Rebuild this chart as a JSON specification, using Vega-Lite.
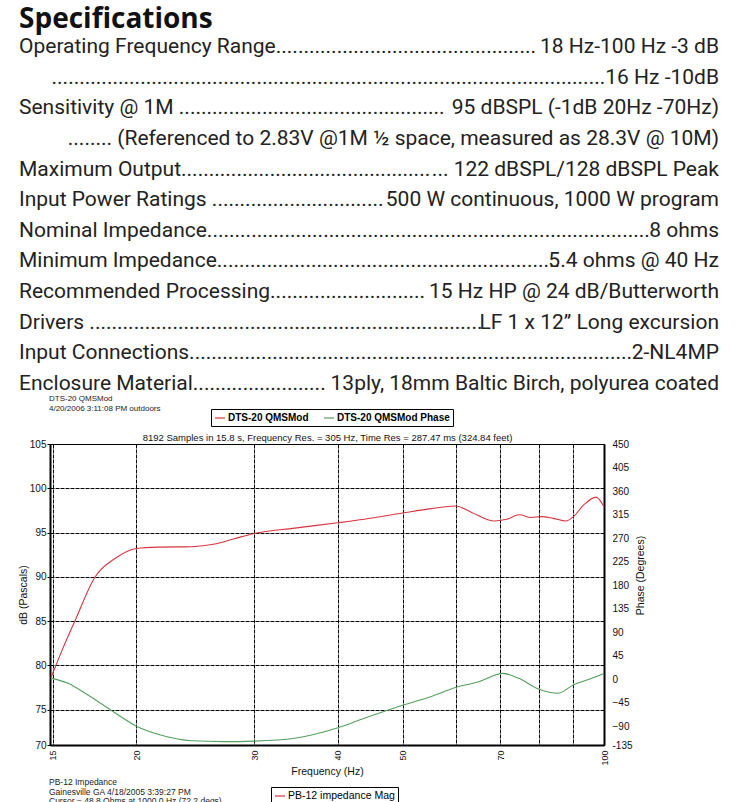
{
  "$schema": "https://vega.github.io/schema/vega-lite/v6.json",
  "padding": {"left": 17, "top": 6, "right": 0, "bottom": 0},
  "background": "white",
  "spacing": 0,
  "config": {
    "font": "Liberation Sans",
    "view": {"stroke": null},
    "axis": {"labelFont": "Liberation Sans", "titleFont": "Liberation Sans", "labelColor": "#111", "titleColor": "#111", "titleFontWeight": "normal", "labelFontSize": 10, "titleFontSize": 10.5}
  },
  "resolve": {"scale": {"color": "independent"}, "legend": {"color": "independent"}},
  "datasets": {
    "specs": [
      {"line": 1, "label": "Operating Frequency Range...............................................", "value": "18 Hz-100 Hz -3 dB"},
      {"line": 2, "label": "", "value": "....................................................................................................16 Hz -10dB"},
      {"line": 3, "label": "Sensitivity @ 1M ................................................", "value": "95 dBSPL (-1dB 20Hz -70Hz)"},
      {"line": 4, "label": "", "value": "........ (Referenced to 2.83V @1M ½ space, measured as 28.3V @ 10M)"},
      {"line": 5, "label": "Maximum Output.............................................", "value": "... 122 dBSPL/128 dBSPL Peak"},
      {"line": 6, "label": "Input Power Ratings ...............................", "value": "500 W continuous, 1000 W program"},
      {"line": 7, "label": "Nominal Impedance................................................................................", "value": "8 ohms"},
      {"line": 8, "label": "Minimum Impedance..............................................................", "value": "5.4 ohms @ 40 Hz"},
      {"line": 9, "label": "Recommended Processing............................", "value": "15 Hz HP @ 24 dB/Butterworth"},
      {"line": 10, "label": "Drivers .......................................................................", "value": "LF 1 x 12” Long excursion"},
      {"line": 11, "label": "Input Connections................................................................................", "value": "2-NL4MP"},
      {"line": 12, "label": "Enclosure Material........................", "value": "13ply, 18mm Baltic Birch, polyurea coated"}
    ],
    "curves": [
      {"series": "DTS-20 QMSMod", "freq": 14.9, "value": 78.6},
      {"series": "DTS-20 QMSMod", "freq": 15.5, "value": 81.8},
      {"series": "DTS-20 QMSMod", "freq": 16.2, "value": 85.1},
      {"series": "DTS-20 QMSMod", "freq": 17.35, "value": 90.0},
      {"series": "DTS-20 QMSMod", "freq": 18.6, "value": 92.1},
      {"series": "DTS-20 QMSMod", "freq": 20, "value": 93.2},
      {"series": "DTS-20 QMSMod", "freq": 21.5, "value": 93.35},
      {"series": "DTS-20 QMSMod", "freq": 24.2, "value": 93.4},
      {"series": "DTS-20 QMSMod", "freq": 26.2, "value": 93.7},
      {"series": "DTS-20 QMSMod", "freq": 28, "value": 94.3},
      {"series": "DTS-20 QMSMod", "freq": 30, "value": 94.9},
      {"series": "DTS-20 QMSMod", "freq": 34.5, "value": 95.5},
      {"series": "DTS-20 QMSMod", "freq": 40, "value": 96.1},
      {"series": "DTS-20 QMSMod", "freq": 43.8, "value": 96.5},
      {"series": "DTS-20 QMSMod", "freq": 50, "value": 97.2},
      {"series": "DTS-20 QMSMod", "freq": 55.2, "value": 97.7},
      {"series": "DTS-20 QMSMod", "freq": 60, "value": 98.0},
      {"series": "DTS-20 QMSMod", "freq": 63.3, "value": 97.3},
      {"series": "DTS-20 QMSMod", "freq": 68.6, "value": 96.3},
      {"series": "DTS-20 QMSMod", "freq": 71.5, "value": 96.5},
      {"series": "DTS-20 QMSMod", "freq": 74.8, "value": 97.0},
      {"series": "DTS-20 QMSMod", "freq": 77.8, "value": 96.7},
      {"series": "DTS-20 QMSMod", "freq": 80.7, "value": 96.8},
      {"series": "DTS-20 QMSMod", "freq": 84, "value": 96.6},
      {"series": "DTS-20 QMSMod", "freq": 87.8, "value": 96.3},
      {"series": "DTS-20 QMSMod", "freq": 90, "value": 96.8},
      {"series": "DTS-20 QMSMod", "freq": 93.5, "value": 98.2},
      {"series": "DTS-20 QMSMod", "freq": 97.3, "value": 99.0},
      {"series": "DTS-20 QMSMod", "freq": 100, "value": 97.9},
      {"series": "DTS-20 QMSMod Phase", "freq": 14.9, "value": 2},
      {"series": "DTS-20 QMSMod Phase", "freq": 15.8, "value": -8},
      {"series": "DTS-20 QMSMod Phase", "freq": 16.9, "value": -30},
      {"series": "DTS-20 QMSMod Phase", "freq": 18.2, "value": -57},
      {"series": "DTS-20 QMSMod Phase", "freq": 20, "value": -90},
      {"series": "DTS-20 QMSMod Phase", "freq": 21.6, "value": -106},
      {"series": "DTS-20 QMSMod Phase", "freq": 24.2, "value": -118},
      {"series": "DTS-20 QMSMod Phase", "freq": 27, "value": -119.5},
      {"series": "DTS-20 QMSMod Phase", "freq": 30, "value": -118.5},
      {"series": "DTS-20 QMSMod Phase", "freq": 34.5, "value": -113},
      {"series": "DTS-20 QMSMod Phase", "freq": 40, "value": -93},
      {"series": "DTS-20 QMSMod Phase", "freq": 43.8, "value": -75},
      {"series": "DTS-20 QMSMod Phase", "freq": 50, "value": -50},
      {"series": "DTS-20 QMSMod Phase", "freq": 55.2, "value": -33},
      {"series": "DTS-20 QMSMod Phase", "freq": 60, "value": -16},
      {"series": "DTS-20 QMSMod Phase", "freq": 65, "value": -5},
      {"series": "DTS-20 QMSMod Phase", "freq": 70.6, "value": 11},
      {"series": "DTS-20 QMSMod Phase", "freq": 74.4, "value": 2},
      {"series": "DTS-20 QMSMod Phase", "freq": 80, "value": -19.5},
      {"series": "DTS-20 QMSMod Phase", "freq": 85.3, "value": -27},
      {"series": "DTS-20 QMSMod Phase", "freq": 90, "value": -11},
      {"series": "DTS-20 QMSMod Phase", "freq": 96.1, "value": 2},
      {"series": "DTS-20 QMSMod Phase", "freq": 100, "value": 11}
    ],
    "footer": [
      {"line": 1, "text": "PB-12 Impedance"},
      {"line": 2, "text": "Gainesville GA  4/18/2005 3:39:27 PM"},
      {"line": 3, "text": "Cursor = 48.8 Ohms at 1000.0 Hz (72.2 degs)"}
    ],
    "pb12": [
      {"series": "PB-12 impedance Mag"}
    ]
  },
  "vconcat": [
    {
      "width": 700,
      "height": 337,
      "title": {"text": "Specifications", "anchor": "start", "font": "Open Sans", "fontSize": 28, "fontWeight": "bold", "color": "#111", "offset": 2},
      "data": {"name": "specs"},
      "encoding": {
        "y": {"field": "line", "type": "ordinal", "scale": {"type": "point", "padding": 0}, "axis": null}
      },
      "layer": [
        {
          "mark": {"type": "text", "align": "left", "baseline": "middle", "font": "Roboto", "fontSize": 21, "color": "#222"},
          "encoding": {
            "x": {"datum": 0, "type": "quantitative", "scale": {"domain": [0, 1], "range": [-31, 669]}, "axis": null},
            "text": {"field": "label"}
          }
        },
        {
          "mark": {"type": "text", "align": "right", "baseline": "middle", "font": "Roboto", "fontSize": 21, "color": "#222"},
          "encoding": {
            "x": {"datum": 1, "type": "quantitative"},
            "text": {"field": "value"}
          }
        }
      ]
    },
    {
      "width": 554,
      "height": 301,
      "view": {"stroke": "black", "strokeWidth": 1},
      "title": {"text": ["DTS-20 QMSMod", "4/20/2006 3:11:08 PM outdoors"], "anchor": "start", "frame": "group", "dx": -1, "fontSize": 8, "fontWeight": "normal", "font": "Liberation Sans", "color": "#222", "lineHeight": 10, "offset": -4},
      "data": {"name": "curves"},
      "layer": [
        {
          "transform": [{"filter": "datum.series === 'DTS-20 QMSMod'"}],
          "mark": {"type": "line", "strokeWidth": 1.1, "interpolate": "monotone"},
          "encoding": {
            "x": {
              "field": "freq", "type": "quantitative",
              "scale": {"type": "log", "domain": [14.85, 100], "nice": false},
              "axis": {
                "orient": "bottom", "values": [15, 20, 30, 40, 50, 60, 70, 80, 90, 100], "format": "d",
                "labelExpr": "datum.value == 60 || datum.value == 80 || datum.value == 90 ? '' : datum.label",
                "labelAngle": 270, "ticks": false, "labelPadding": 5, "labelFontSize": 9,
                "title": "Frequency (Hz)", "titlePadding": 1, "titleFontSize": 10.5,
                "grid": true, "gridColor": "black", "gridDash": [4, 1], "gridOpacity": 1,
                "domainColor": "black", "domainWidth": 2
              }
            },
            "y": {
              "field": "value", "type": "quantitative",
              "scale": {"domain": [71, 105], "nice": false, "zero": false},
              "axis": {
                "orient": "left", "values": [71, 75, 80, 85, 90, 95, 100, 105],
                "labelExpr": "datum.value < 72 ? '70' : datum.label",
                "title": "dB (Pascals)", "titlePadding": 1,
                "tickSize": 3, "tickColor": "black", "labelPadding": 1,
                "grid": true, "gridColor": "black", "gridDash": [4, 1], "gridOpacity": 1,
                "domainColor": "black", "domainWidth": 2
              }
            },
            "color": {
              "field": "series", "type": "nominal",
              "scale": {"domain": ["DTS-20 QMSMod", "DTS-20 QMSMod Phase"], "range": ["#d9343f", "#55a060"]},
              "legend": {
                "orient": "none", "legendX": 161, "legendY": -35, "direction": "horizontal", "title": null,
                "symbolType": "stroke", "symbolSize": 100, "symbolStrokeWidth": 1.2,
                "labelFont": "Liberation Sans", "labelFontSize": 10, "labelFontWeight": "bold", "labelColor": "black",
                "strokeColor": "black", "padding": 3, "columnPadding": 12, "labelOffset": 2
              }
            }
          }
        },
        {
          "transform": [{"filter": "datum.series === 'DTS-20 QMSMod Phase'"}],
          "mark": {"type": "line", "strokeWidth": 1.1, "interpolate": "monotone"},
          "encoding": {
            "x": {
              "field": "freq", "type": "quantitative",
              "axis": {"orient": "top", "labels": false, "ticks": false, "domain": false, "grid": false,
                "title": "8192 Samples in 15.8 s, Frequency Res. = 305 Hz, Time Res = 287.47 ms (324.84 feet)",
                "titlePadding": 2, "titleFontSize": 9.5}
            },
            "y": {
              "field": "value", "type": "quantitative",
              "scale": {"domain": [-126, 450], "nice": false, "zero": false},
              "axis": {
                "orient": "right", "values": [-126, -90, -45, 0, 45, 90, 135, 180, 225, 270, 315, 360, 405, 450],
                "labelExpr": "datum.value < -120 ? '-135' : datum.label",
                "ticks": false, "labelPadding": 8, "grid": false,
                "title": "Phase (Degrees)", "titleAngle": 270, "titleX": 36, "titleY": 131, "titleAlign": "center", "titleBaseline": "middle",
                "domainColor": "black", "domainWidth": 2
              }
            },
            "color": {"field": "series", "type": "nominal"}
          }
        }
      ],
      "resolve": {"scale": {"y": "independent"}, "axis": {"x": "independent", "y": "independent"}}
    },
    {
      "width": 554,
      "height": 19,
      "layer": [
        {
          "data": {"name": "footer"},
          "mark": {"type": "text", "align": "left", "baseline": "middle", "fontSize": 8.5, "font": "Liberation Sans", "color": "#222"},
          "encoding": {
            "x": {"datum": 0, "type": "quantitative", "scale": {"domain": [0, 1], "range": [-1, 553]}, "axis": null},
            "y": {"field": "line", "type": "ordinal", "scale": {"type": "point", "padding": 0}, "axis": null},
            "text": {"field": "text"}
          }
        },
        {
          "data": {"name": "pb12"},
          "mark": {"type": "rule", "opacity": 0},
          "encoding": {
            "x": {"datum": 0, "type": "quantitative"},
            "color": {
              "field": "series", "type": "nominal",
              "scale": {"range": ["#d9343f"]},
              "legend": {
                "orient": "none", "legendX": 221, "legendY": 5, "title": null,
                "symbolType": "stroke", "symbolSize": 100, "symbolStrokeWidth": 1.2, "symbolOpacity": 1,
                "labelFont": "Liberation Sans", "labelFontSize": 10.5, "labelColor": "black",
                "strokeColor": "black", "padding": 3, "labelOffset": 2
              }
            }
          }
        }
      ]
    }
  ]
}
